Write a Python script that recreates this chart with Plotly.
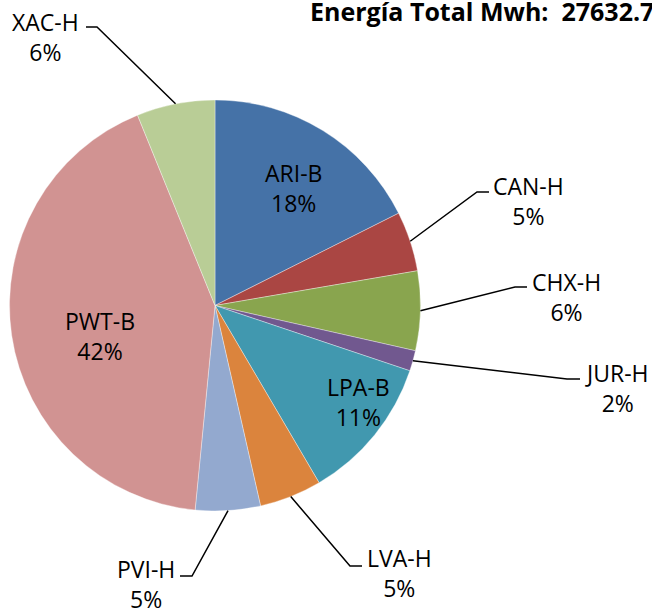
import math
import plotly.graph_objects as go

# datos (Mwh por central)
centrales = ['ARI-B', 'CAN-H', 'CHX-H', 'JUR-H', 'LPA-B', 'LVA-H', 'PVI-H', 'PWT-B', 'XAC-H']
energia = [4860.0, 1300.0, 1725.0, 445.0, 3150.0, 1352.7, 1410.0, 11690.0, 1700.0]
colores = ['#4572A7', '#AA4643', '#89A54E', '#71588F', '#4198AF',
           '#DB843D', '#93A9CF', '#D19392', '#B9CD96']

W, H = 652, 611
cx, cy, R = 215, 305.5, 205.5  # centro y radio del pie en px
FONT = 'Open Sans'

# posicion de etiquetas (px): centro del texto, y para las externas el codo de la linea
etiquetas = {
    'ARI-B': dict(t=(293, 188)),
    'LPA-B': dict(t=(358, 402)),
    'PWT-B': dict(t=(100, 336)),
    'CAN-H': dict(t=(528, 201), e=(477, 192), s=12),
    'CHX-H': dict(t=(566, 297), e=(515, 287), s=12),
    'JUR-H': dict(t=(617, 388), e=(567, 379), s=13),
    'LVA-H': dict(t=(399, 573), e=(350, 566), s=12),
    'PVI-H': dict(t=(146, 584), e=(192, 576), s=-12),
    'XAC-H': dict(t=(45, 37), e=(97, 27), s=-11),
}

def px2paper(x, y):
    return x / W, 1 - y / H

total = sum(energia)

fig = go.Figure()
fig.add_trace(go.Pie(
    labels=centrales, values=energia, sort=False, direction='clockwise', rotation=0,
    marker=dict(colors=colores, line=dict(color='rgba(255,255,255,0.6)', width=0.6)),
    textinfo='none', hoverinfo='label+value+percent', showlegend=False,
    domain=dict(x=[(cx - R) / W, (cx + R) / W], y=[1 - (cy + R) / H, 1 - (cy - R) / H]),
))

acum = 0
for nombre, v in zip(centrales, energia):
    mid = 2 * math.pi * (acum + v / 2) / total
    acum += v
    pos = etiquetas[nombre]
    tx, ty = px2paper(*pos['t'])
    fig.add_annotation(x=tx, y=ty, xref='paper', yref='paper', showarrow=False,
                       xanchor='center', yanchor='middle',
                       text=f"{nombre}<br>{v / total:.0%}",
                       font=dict(family=FONT, size=23, color='black'))
    if 'e' in pos:
        ax_, ay_ = cx + R * math.sin(mid), cy - R * math.cos(mid)
        ex, ey = pos['e']
        p = [px2paper(ex + pos['s'], ey), px2paper(ex, ey), px2paper(ax_, ay_)]
        path = 'M {} {} L {} {} L {} {}'.format(*[c for pt in p for c in pt])
        fig.add_shape(type='path', path=path, xref='paper', yref='paper',
                      line=dict(color='black', width=1.5))

fig.add_annotation(x=308 / W, y=1 - 11 / H, xref='paper', yref='paper', showarrow=False,
                   xanchor='left', yanchor='middle',
                   text=f"<b>Energía Total Mwh:  {total:.1f}</b>",
                   font=dict(family=FONT, size=25, color='black'))

fig.update_layout(width=W, height=H, margin=dict(l=0, r=0, t=0, b=0),
                  paper_bgcolor='white', plot_bgcolor='white')
fig.write_html("out.html", config={'displayModeBar': False},
               post_script="document.body.style.margin='0';")
